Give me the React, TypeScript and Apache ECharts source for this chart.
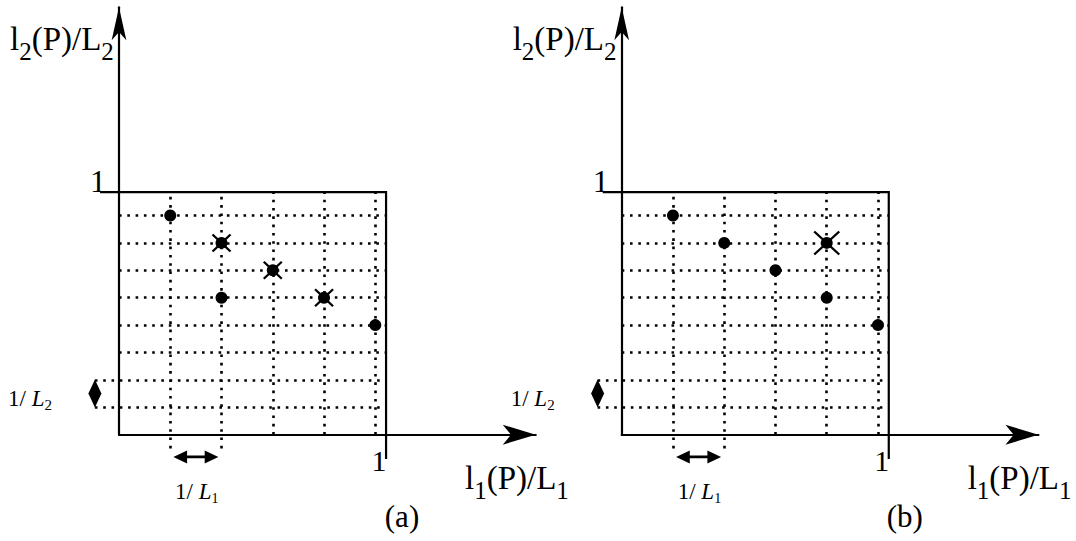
import React, { useEffect, useRef } from "react";
import * as echarts from "echarts";

// ---- data (grid units: one unit = 1/L1 horizontally, 1/L2 vertically) ----
const colIdx = [1, 2, 3, 4, 5];
const rowIdx = [1, 2, 3, 4, 5, 6, 7, 8];
const boxRight = 5.21;
const boxTop = 8.85;
const xMax = 8.13;
const yMax = 15.6;
const pointsA = [[1, 8], [2, 7], [3, 6], [2, 5], [4, 5], [5, 4]];
const crossedA = [[2, 7], [3, 6], [4, 5]];
const pointsB = [[1, 8], [2, 7], [3, 6], [4, 7], [4, 5], [5, 4]];
const crossedB = [[4, 7]];
const panelLabels = ["(a)", "(b)"];
const tickOne = "1";

const SERIF_NAME = "Liberation Serif";
const SERIF = "'Liberation Serif', 'Times New Roman', serif";
const PANEL_DX = [0, 502.7];
const X0 = 119;
const Y0 = 434.7;
const UX = 51.26;
const UY = 27.4;

const dotStyle = { color: "#000", width: 2.6, type: [2.6, 5.7], cap: "butt", opacity: 1 };

function panelSeries(i: number, pts: number[][], crossed: number[][], crossSize: number[]) {
  const dotted: any[] = [];
  colIdx.forEach((c) => {
    dotted.push({ coords: [[c, c <= 2 ? -0.5 : 0], [c, boxTop]] });
  });
  rowIdx.forEach((r) => {
    dotted.push({ coords: [[r <= 2 ? -0.47 : 0, r], [boxRight, r]] });
  });
  return [
    {
      type: "lines",
      coordinateSystem: "cartesian2d",
      xAxisIndex: i,
      yAxisIndex: i,
      polyline: false,
      clip: false,
      silent: true,
      lineStyle: dotStyle,
      data: dotted,
      z: 2,
    },
    {
      type: "lines",
      coordinateSystem: "cartesian2d",
      xAxisIndex: i,
      yAxisIndex: i,
      polyline: true,
      clip: false,
      silent: true,
      lineStyle: { color: "#000", width: 2.2, type: "solid", opacity: 1 },
      data: [{ coords: [[-0.37, boxTop], [boxRight, boxTop], [boxRight, -0.89]] }],
      z: 3,
    },
    {
      type: "scatter",
      xAxisIndex: i,
      yAxisIndex: i,
      clip: false,
      silent: true,
      symbol: "circle",
      symbolSize: 12,
      itemStyle: { color: "#000", opacity: 1 },
      data: pts,
      z: 5,
    },
    {
      type: "scatter",
      xAxisIndex: i,
      yAxisIndex: i,
      clip: false,
      silent: true,
      symbol: "path://M0,0 L20,18 M20,0 L0,18",
      symbolSize: crossSize,
      itemStyle: { color: "transparent", borderColor: "#000", borderWidth: 2.2, opacity: 1 },
      data: crossed,
      z: 6,
    },
    {
      type: "scatter",
      xAxisIndex: i,
      yAxisIndex: i,
      clip: false,
      silent: true,
      symbol: "diamond",
      symbolSize: [13, 28],
      itemStyle: { color: "#000", opacity: 1 },
      data: [[-0.47, 1.5]],
      z: 6,
    },
    {
      type: "scatter",
      xAxisIndex: i,
      yAxisIndex: i,
      clip: false,
      silent: true,
      symbol:
        "path://M0,6.5 L14,0 L14,5.2 L32,5.2 L32,0 L46,6.5 L32,13 L32,7.8 L14,7.8 L14,13 Z",
      symbolSize: [45, 13],
      itemStyle: { color: "#000", opacity: 1 },
      data: [[1.5, -0.81]],
      z: 6,
    },
  ];
}

let measureCtx: CanvasRenderingContext2D | null = null;
function measure(t: string, size: number, italic: boolean) {
  if (!measureCtx) measureCtx = document.createElement("canvas").getContext("2d");
  if (!measureCtx) return t.length * size * 0.5;
  measureCtx.font = `${italic ? "italic " : ""}${size}px '${SERIF_NAME}'`;
  return measureCtx.measureText(t).width;
}

type Part = { t: string; size: number; italic?: boolean; dy?: number };

// a run of text parts laid left to right on a common baseline (dy lowers a part)
function textRun(x: number, baseline: number, parts: Part[], align: "left" | "center" = "left") {
  const widths = parts.map((p) => measure(p.t, p.size, !!p.italic));
  const total = widths.reduce((a, b) => a + b, 0);
  let cx = align === "center" ? x - total / 2 : x;
  const els: any[] = [];
  parts.forEach((p, k) => {
    els.push({
      type: "text",
      x: cx,
      y: baseline + (p.dy || 0) - 0.3375 * p.size,
      silent: true,
      style: {
        text: p.t,
        fill: "#000",
        fontFamily: SERIF,
        fontSize: p.size,
        fontStyle: p.italic ? "italic" : "normal",
        align: "left",
        verticalAlign: "middle",
      },
    });
    cx += widths[k];
  });
  return els;
}

function panelTexts(i: number) {
  const dx = PANEL_DX[i];
  const M = 33;
  const S = 25;
  return [
    ...textRun(10 + dx, 50, [
      { t: "l", size: M },
      { t: "2", size: S, dy: 10 },
      { t: "(P)/L", size: M },
      { t: "2", size: S, dy: 10 },
    ]),
    ...textRun(465 + dx, 489, [
      { t: "l", size: M },
      { t: "1", size: S, dy: 10 },
      { t: "(P)/L", size: M },
      { t: "1", size: S, dy: 10 },
    ]),
    ...textRun(98 + dx, 192, [{ t: tickOne, size: 32 }], "center"),
    ...textRun(379 + dx, 471, [{ t: tickOne, size: 30 }], "center"),
    ...textRun(8 + dx, 406, [
      { t: "1/ ", size: 23 },
      { t: "L", size: 23, italic: true },
      { t: "2", size: 15, dy: 4 },
    ]),
    ...textRun(175 + dx, 499, [
      { t: "1/ ", size: 23 },
      { t: "L", size: 23, italic: true },
      { t: "1", size: 14, dy: 4 },
    ]),
    ...textRun(402 + dx, 527, [{ t: panelLabels[i], size: 31 }], "center"),
  ];
}

function axisPair(i: number) {
  const line = { color: "#000", width: 2.2, opacity: 1 };
  const x = {
    type: "value",
    gridIndex: i,
    min: 0,
    max: xMax,
    axisLine: { show: true, onZero: false, symbol: ["none", "arrow"], symbolSize: [15, 33], lineStyle: line },
    axisTick: { show: false },
    axisLabel: { show: false },
    splitLine: { show: false },
  };
  const y = {
    type: "value",
    gridIndex: i,
    min: 0,
    max: yMax,
    axisLine: { show: true, onZero: false, symbol: ["none", "arrow"], symbolSize: [11, 33], lineStyle: line },
    axisTick: { show: false },
    axisLabel: { show: false },
    splitLine: { show: false },
  };
  return { x, y };
}

export default function App() {
  const ref = useRef<HTMLDivElement>(null);
  useEffect(() => {
    if (!ref.current) return;
    const chart = echarts.init(ref.current, null, { renderer: "svg" });
    const a0 = axisPair(0);
    const a1 = axisPair(1);
    const GW = xMax * UX;
    const GH = yMax * UY;
    chart.setOption({
      animation: false,
      backgroundColor: "#fff",
      grid: [0, 1].map((i) => ({
        left: X0 + PANEL_DX[i],
        top: Y0 - GH,
        width: GW,
        height: GH,
        containLabel: false,
      })),
      xAxis: [a0.x, a1.x],
      yAxis: [a0.y, a1.y],
      series: [
        ...panelSeries(0, pointsA, crossedA, [18, 17]),
        ...panelSeries(1, pointsB, crossedB, [25, 23]),
      ],
      graphic: [...panelTexts(0), ...panelTexts(1)],
    });
    return () => chart.dispose();
  }, []);
  return (
    <div
      ref={ref}
      style={{ position: "absolute", left: 0, top: 0, width: 1076, height: 541 }}
    />
  );
}
